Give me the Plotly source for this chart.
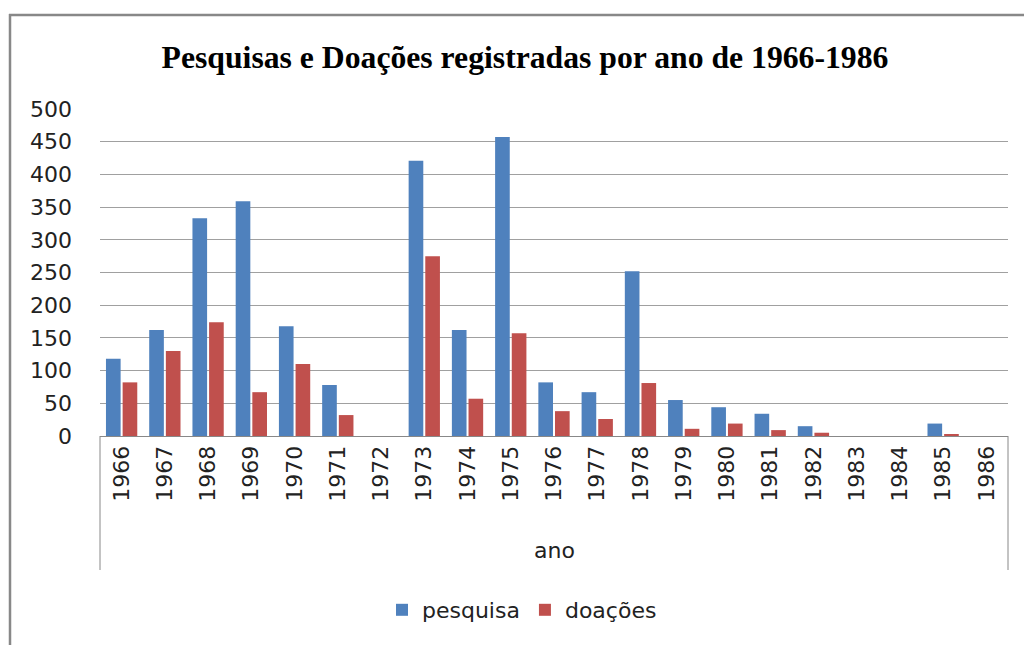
import plotly.graph_objects as go

anos = [str(a) for a in range(1966, 1987)]
pesquisa = [118, 162, 333, 359, 168, 78, 0, 421, 162, 457, 82, 67, 252, 55, 44, 34, 15, 0, 0, 19, 0]
doacoes = [82, 130, 174, 67, 110, 32, 0, 275, 57, 157, 38, 26, 81, 11, 19, 9, 5, 0, 0, 3, 0]
y_ticks = list(range(0, 501, 50))

W, H = 1024, 645
L, T = 100, 109
R = W - 1008
B = H - 436
pw, ph = W - L - R, H - T - B

def px_x(x):  # page pixel -> paper
    return (x - L) / pw

def px_y(y):
    return (H - B - y) / ph

font = "'DejaVu Sans', sans-serif"

fig = go.Figure()
fig.add_trace(go.Bar(x=anos, y=pesquisa, name="pesquisa",
                     marker=dict(color="#4F81BD", line=dict(width=0))))
fig.add_trace(go.Bar(x=anos, y=doacoes, name="doações",
                     marker=dict(color="#C0504D", line=dict(width=0))))

fig.update_layout(
    width=W, height=H,
    margin=dict(l=L, r=R, t=T, b=B, autoexpand=False),
    paper_bgcolor="white", plot_bgcolor="white",
    barmode="group", bargap=0.23, bargroupgap=0.12,
    title=dict(text="<b>Pesquisas e Doações registradas por ano de 1966-1986</b>",
               font=dict(family="'Liberation Serif', 'Times New Roman', serif", size=31.7, color="black"),
               x=525 / W, xanchor="center", y=1 - 57 / H, yanchor="middle",
               xref="container", yref="container"),
    font=dict(family=font, size=22, color="#222"),
    showlegend=True,
    legend=dict(orientation="h", x=px_x(522), xanchor="center", y=px_y(610), yanchor="middle",
                font=dict(family=font, size=22, color="#222"), itemwidth=30,
                traceorder="normal"),
    xaxis=dict(type="category", tickangle=-90, showgrid=False, showline=True,
               linecolor="#888", linewidth=1, ticks="", tickfont=dict(size=22, color="#222"),
               fixedrange=True),
    yaxis=dict(range=[0, 500], tickvals=y_ticks, showgrid=True, gridcolor="#A0A0A0",
               gridwidth=1, showline=False, zeroline=False, ticks="",
               tickfont=dict(size=22, color="#222"), ticklabelstandoff=27, fixedrange=True),
)

# category box side lines
for xv in (0, 1):
    fig.add_shape(type="line", xref="paper", yref="paper", x0=xv, x1=xv,
                  y0=0, y1=px_y(570), line=dict(color="#888", width=1))

# outer chart border (top and left edges visible)
fig.add_shape(type="line", xref="paper", yref="paper",
              x0=px_x(9), x1=px_x(1030), y0=px_y(15), y1=px_y(15),
              line=dict(color="#888", width=2.5), layer="below")
fig.add_shape(type="line", xref="paper", yref="paper",
              x0=px_x(10), x1=px_x(10), y0=px_y(14), y1=px_y(670),
              line=dict(color="#888", width=2.5), layer="below")

fig.add_annotation(text="ano", xref="paper", yref="paper", x=0.5, y=px_y(550),
                   showarrow=False, font=dict(family=font, size=22, color="#222"),
                   xanchor="center", yanchor="middle")

fig.write_html("out.html", config={"displayModeBar": False},
               post_script="document.body.style.margin='0';document.body.style.overflow='hidden';")
